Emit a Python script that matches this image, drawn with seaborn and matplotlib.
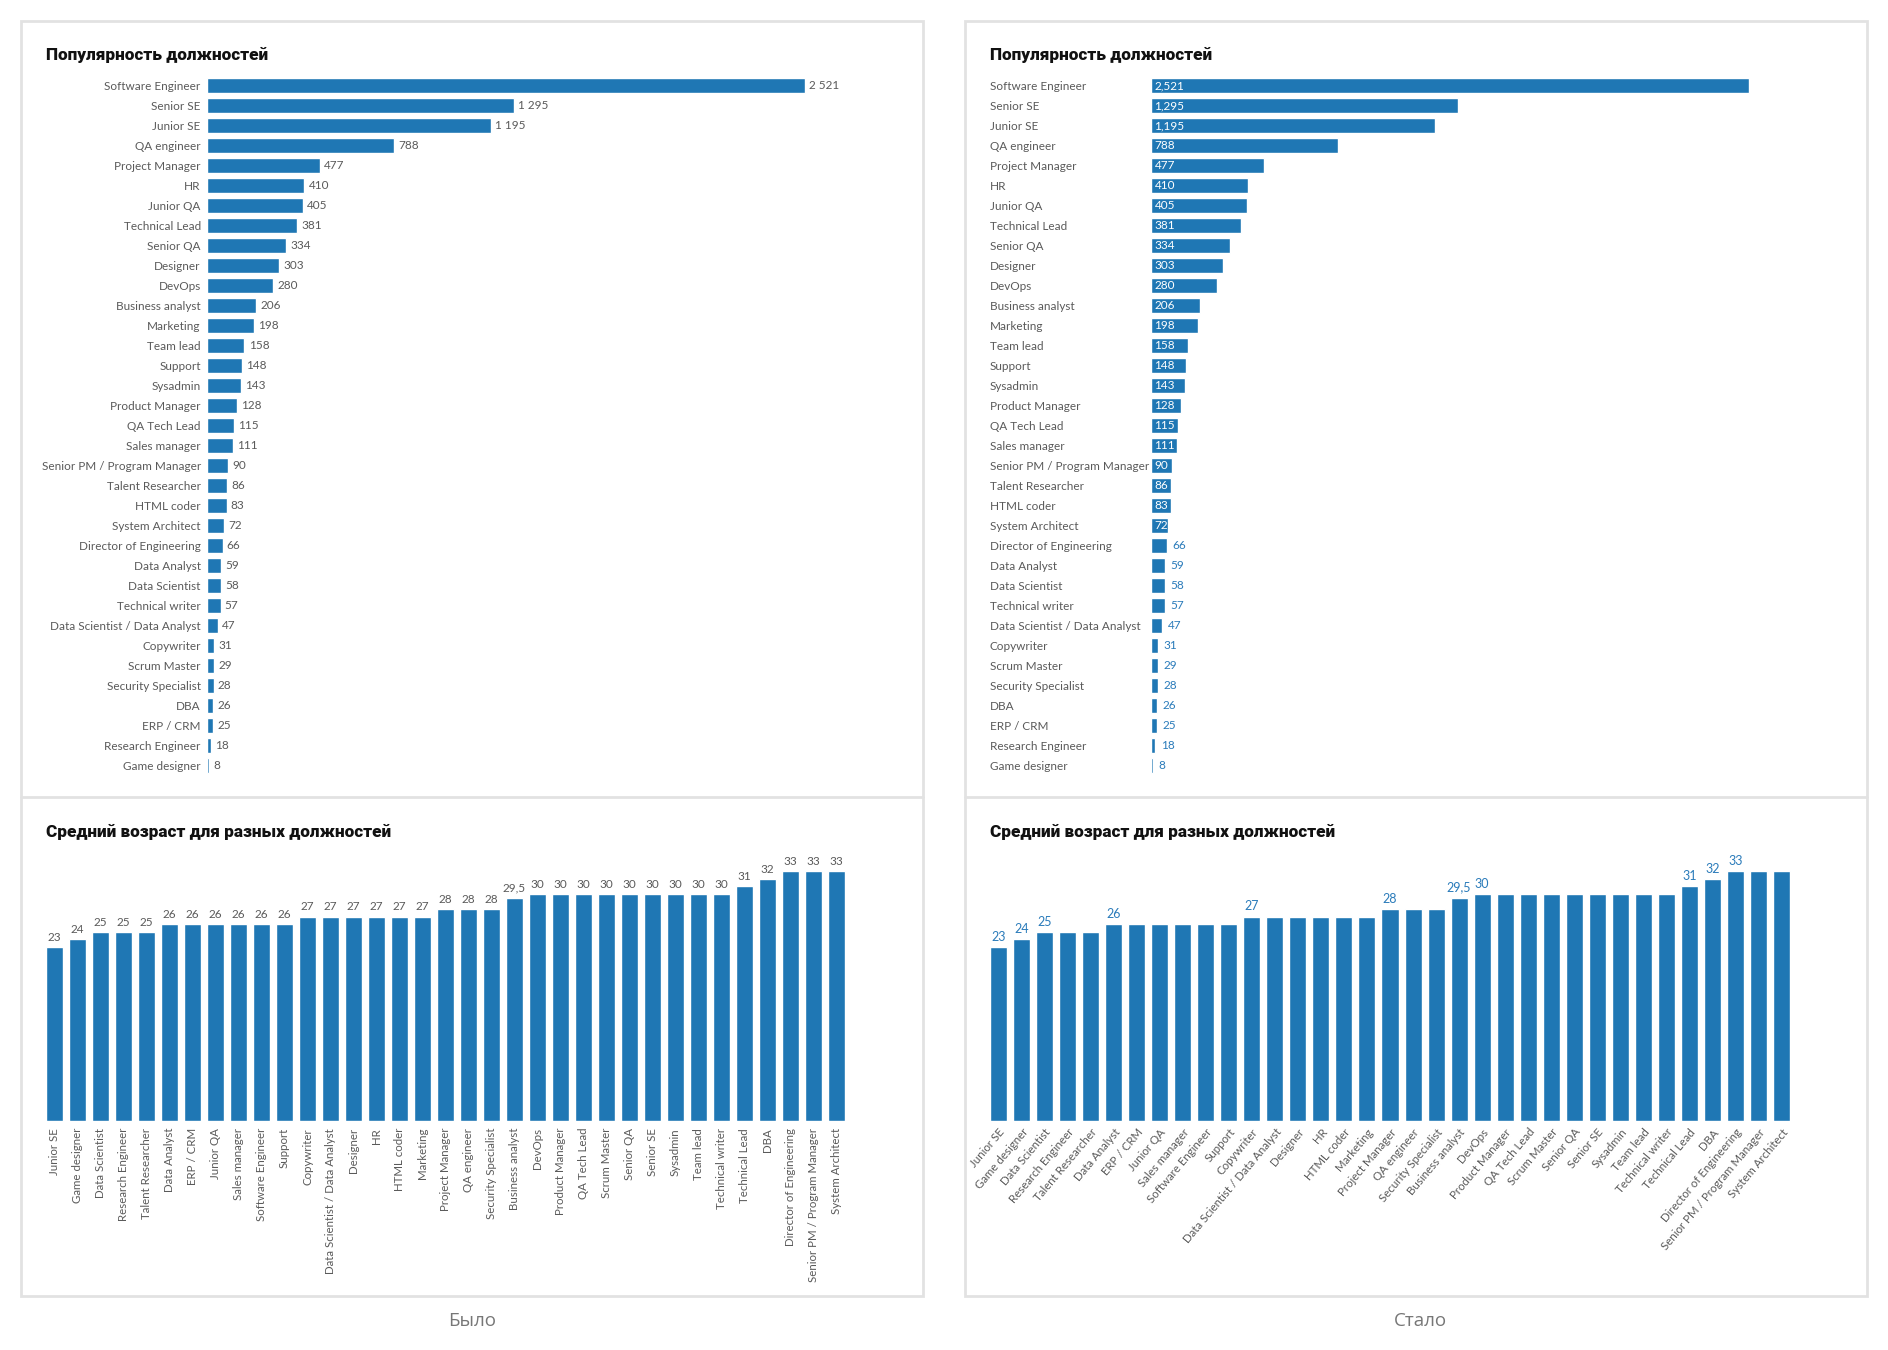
import matplotlib
matplotlib.use("Agg")
import matplotlib.pyplot as plt
import seaborn as sns
import pandas as pd
from matplotlib.patches import Rectangle

sns.set_theme(style="white")
plt.rcParams['font.family'] = ['Lato', 'Open Sans', 'DejaVu Sans']

# ---------------- data ----------------
pop_titles = ["Software Engineer", "Senior SE", "Junior SE", "QA engineer", "Project Manager",
              "HR", "Junior QA", "Technical Lead", "Senior QA", "Designer", "DevOps",
              "Business analyst", "Marketing", "Team lead", "Support", "Sysadmin",
              "Product Manager", "QA Tech Lead", "Sales manager", "Senior PM / Program Manager",
              "Talent Researcher", "HTML coder", "System Architect", "Director of Engineering",
              "Data Analyst", "Data Scientist", "Technical writer", "Data Scientist / Data Analyst",
              "Copywriter", "Scrum Master", "Security Specialist", "DBA", "ERP / CRM",
              "Research Engineer", "Game designer"]
pop_counts = [2521, 1295, 1195, 788, 477, 410, 405, 381, 334, 303, 280, 206, 198, 158, 148,
              143, 128, 115, 111, 90, 86, 83, 72, 66, 59, 58, 57, 47, 31, 29, 28, 26, 25, 18, 8]

age_titles = ["Junior SE", "Game designer", "Data Scientist", "Research Engineer",
              "Talent Researcher", "Data Analyst", "ERP / CRM", "Junior QA", "Sales manager",
              "Software Engineer", "Support", "Copywriter", "Data Scientist / Data Analyst",
              "Designer", "HR", "HTML coder", "Marketing", "Project Manager", "QA engineer",
              "Security Specialist", "Business analyst", "DevOps", "Product Manager",
              "QA Tech Lead", "Scrum Master", "Senior QA", "Senior SE", "Sysadmin", "Team lead",
              "Technical writer", "Technical Lead", "DBA", "Director of Engineering",
              "Senior PM / Program Manager", "System Architect"]
age_values = [23, 24, 25, 25, 25, 26, 26, 26, 26, 26, 26, 27, 27, 27, 27, 27, 27, 28, 28, 28,
              29.5, 30, 30, 30, 30, 30, 30, 30, 30, 30, 31, 32, 33, 33, 33]

titles_top = "Популярность должностей"
titles_bottom = "Средний возраст для разных должностей"
captions = ["Было", "Стало"]

pop_df = pd.DataFrame({"title": pop_titles, "count": pop_counts})
age_df = pd.DataFrame({"title": age_titles, "age": age_values})

# ---------------- layout ----------------
W, H = 1888, 1350
fig = plt.figure(figsize=(W / 100, H / 100), dpi=100)
fig.patch.set_facecolor("white")

BLUE = "#1f77b4"
TXT_BLUE = "#2a7bba"
GREY = "#5a5a5a"
TITLE_FONT = ['Roboto', 'Open Sans', 'DejaVu Sans']
CAP_FONT = ['Open Sans', 'DejaVu Sans']
TICK = 8.5


def px_axes(x0, y0, x1, y1):
    return fig.add_axes([x0 / W, 1 - y1 / H, (x1 - x0) / W, (y1 - y0) / H])


def fmt_age(v):
    return (f"{v:g}").replace(".", ",")


# panel borders
for bx in (21, 965):
    fig.patches.append(Rectangle((bx / W, 1 - 1296 / H), 902 / W, (1296 - 21) / H,
                                 transform=fig.transFigure, fill=False,
                                 edgecolor="#e2e2e2", linewidth=2))
    fig.add_artist(plt.Line2D([bx / W, (bx + 902) / W], [1 - 797 / H, 1 - 797 / H],
                              transform=fig.transFigure, color="#e2e2e2", linewidth=2))

# titles
for tx in (46, 990):
    fig.text(tx / W, 1 - 55 / H, titles_top, fontsize=12.3, fontweight="heavy",
             family=TITLE_FONT, va="center", ha="left", color="#111111")
    fig.text(tx / W, 1 - 832 / H, titles_bottom, fontsize=12.3, fontweight="heavy",
             family=TITLE_FONT, va="center", ha="left", color="#111111")

fig.text(472 / W, 1 - 1321 / H, captions[0], fontsize=13.5, family=CAP_FONT, color="#777777",
         ha="center", va="center")
fig.text(1420 / W, 1 - 1321 / H, captions[1], fontsize=13.5, family=CAP_FONT, color="#777777",
         ha="center", va="center")


def style_axes(ax):
    for s in ax.spines.values():
        s.set_visible(False)
    ax.set_xlabel("")
    ax.set_ylabel("")
    ax.grid(False)
    ax.set_facecolor("none")


# ---- top left: popularity (old) ----
ax1 = px_axes(207, 75.5, 907, 775.8)
sns.barplot(data=pop_df, x="count", y="title", orient="h", color=BLUE, saturation=1,
            width=0.73, ax=ax1)
style_axes(ax1)
ax1.set_xlim(0, 2950)
ax1.set_xticks([])
ax1.tick_params(axis="y", length=0, pad=4.5, labelsize=TICK, labelcolor=GREY)
ax1.bar_label(ax1.containers[0], labels=[f"{v:,}".replace(",", " ") for v in pop_counts],
              padding=3, fontsize=TICK, color=GREY)

# ---- top right: popularity (new) ----
ax2 = px_axes(1151, 75.5, 1851, 775.8)
sns.barplot(data=pop_df, x="count", y="title", orient="h", color=BLUE, saturation=1,
            width=0.73, ax=ax2)
style_axes(ax2)
ax2.set_xlim(0, 2950)
ax2.set_xticks([])
ax2.tick_params(axis="y", length=0, pad=116, labelsize=TICK, labelcolor=GREY)
for lab in ax2.get_yticklabels():
    lab.set_horizontalalignment("left")
for i, v in enumerate(pop_counts):
    if v >= 72:
        ax2.annotate(f"{v:,}", xy=(0, i), xytext=(2.5, 0), textcoords="offset points",
                     ha="left", va="center", fontsize=TICK, color="white")
    else:
        ax2.annotate(f"{v:,}", xy=(v, i), xytext=(4, 0), textcoords="offset points",
                     ha="left", va="center", fontsize=TICK, color=TXT_BLUE)

# ---- bottom left: age (old) ----
ax3 = px_axes(43, 848.5, 848, 1121)
sns.barplot(data=age_df, x="title", y="age", color=BLUE, saturation=1, width=0.74, ax=ax3)
style_axes(ax3)
ax3.set_ylim(0, 36)
ax3.set_xlim(-0.5, len(age_titles) - 0.5)
ax3.set_yticks([])
ax3.tick_params(axis="x", length=0, pad=5, labelsize=8.3, labelcolor=GREY, rotation=90)
ax3.bar_label(ax3.containers[0], labels=[fmt_age(v) for v in age_values], padding=3,
              fontsize=8.5, color=GREY)

# ---- bottom right: age (new) ----
ax4 = px_axes(987, 848.5, 1793, 1121)
sns.barplot(data=age_df, x="title", y="age", color=BLUE, saturation=1, width=0.74, ax=ax4)
style_axes(ax4)
ax4.set_ylim(0, 36)
ax4.set_xlim(-0.5, len(age_titles) - 0.5)
ax4.set_yticks([])
ax4.tick_params(axis="x", length=0, pad=4, labelsize=8.3, labelcolor=GREY)
for lab in ax4.get_xticklabels():
    lab.set_rotation(50)
    lab.set_horizontalalignment("right")
    lab.set_rotation_mode("anchor")
shown = []
prev = None
for v in age_values:
    shown.append(fmt_age(v) if v != prev else "")
    prev = v
ax4.bar_label(ax4.containers[0], labels=shown, padding=3, fontsize=9, color=TXT_BLUE)

fig.savefig("out.png", dpi=100, facecolor="white")
